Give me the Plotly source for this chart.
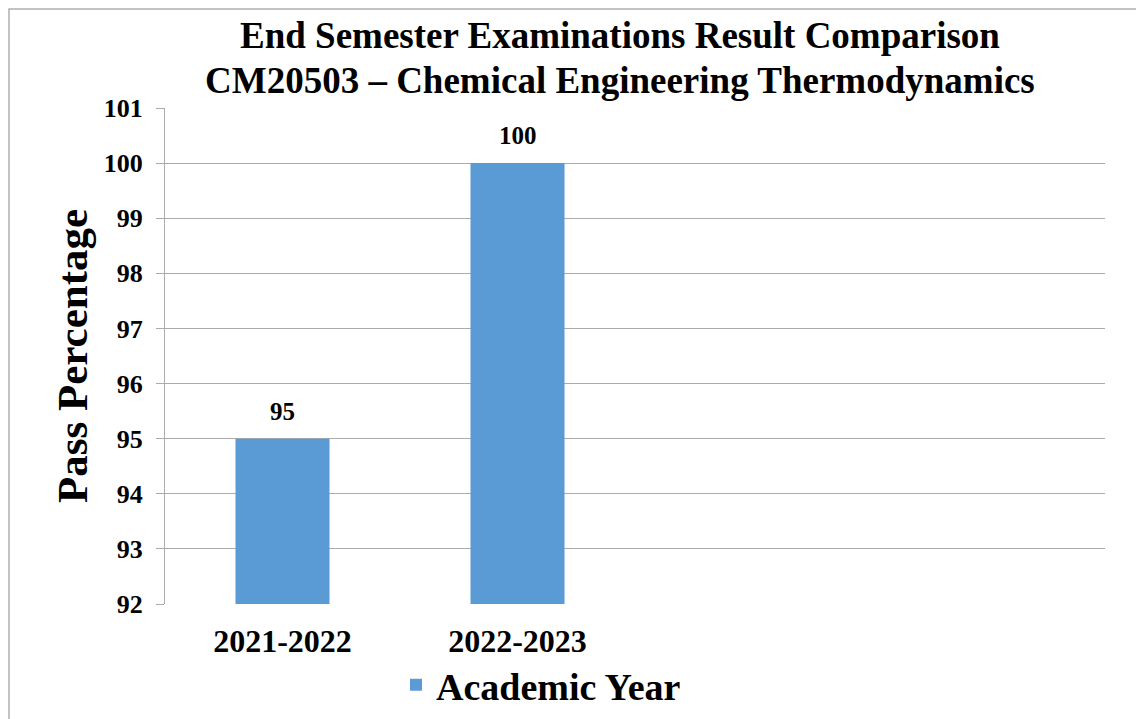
import plotly.graph_objects as go

categories = ["2021-2022", "2022-2023"]
pass_pct = [95, 100]
series_name = "Academic Year"
title_lines = ["End Semester Examinations Result Comparison",
               "CM20503 \u2013 Chemical Engineering Thermodynamics"]

# page body has an 8px margin, so the figure is laid out 8px smaller/shifted
OFF = 8
W, H = 1144 - OFF, 719 - OFF
L, R, T = 165 - OFF, 1144 - 1105, 108 - OFF
pw = W - L - R
plot_bottom = 604 - OFF
ph = plot_bottom - T
B = H - plot_bottom
font = "Liberation Serif"
grid = "#ababab"


def px_x(x):  # page pixel -> paper x
    return (x - OFF - L) / pw


def px_y(y):  # page pixel -> paper y
    return (plot_bottom - (y - OFF)) / ph


fig = go.Figure()
fig.add_trace(go.Bar(
    x=categories, y=pass_pct, name="<b>" + series_name + "</b>",
    marker=dict(color="#5b9bd5", line=dict(width=0)),
    showlegend=True,
))

# value labels above bars
for c, v in zip(categories, pass_pct):
    fig.add_annotation(x=c, y=v, xref="x", yref="y", text="<b>%s</b>" % v,
                       showarrow=False, yanchor="bottom", yshift=12,
                       font=dict(family=font, size=25, color="black"))

fig.update_layout(
    width=W, height=H,
    margin=dict(l=L, r=R, t=T, b=B, pad=0, autoexpand=False),
    paper_bgcolor="white", plot_bgcolor="white",
    font=dict(family=font, color="black"),
    bargap=0.6,
    xaxis=dict(type="category", range=[-0.5, 3.5], showgrid=False,
               showline=False, ticks="", automargin=False,
               tickfont=dict(family=font, size=32, color="black"),
               ticklabelstandoff=15, tickprefix="<b>", ticksuffix="</b>"),
    yaxis=dict(range=[92, 101], dtick=1, showgrid=True, gridcolor=grid,
               gridwidth=1.3, showline=True, linecolor=grid, linewidth=1.3,
               ticks="outside", ticklen=8, tickcolor=grid, tickwidth=1.3,
               tickfont=dict(family=font, size=26, color="black"),
               tickprefix="<b>", ticksuffix="</b>", ticklabelstandoff=8,
               zeroline=False, automargin=False,
               title=dict(text="<b>Pass Percentage</b>", standoff=2,
                          font=dict(family=font, size=43, color="black"))),
    legend=dict(orientation="h", x=px_x(396), xanchor="left",
                yref="container", y=1 - (685 - OFF) / H, yanchor="middle",
                font=dict(family=font, size=38, color="black"),
                itemwidth=30, bgcolor="rgba(0,0,0,0)"),
)

for line, yc in zip(title_lines, [36, 80]):
    fig.add_annotation(text="<b>" + line + "</b>", xref="paper", yref="paper",
                       x=px_x(620), y=px_y(yc), xanchor="center",
                       yanchor="middle", showarrow=False,
                       font=dict(family=font, size=37, color="black"))

# thin outer chart border (only top/left visible in the frame)
fig.add_shape(type="rect", xref="paper", yref="paper",
              x0=(1 - L) / pw, x1=(W + 20 - L) / pw,
              y0=(plot_bottom - 1) / ph, y1=(plot_bottom - H - 20) / ph,
              line=dict(color="#b0b0b0", width=1.5), layer="below")

fig.write_html("out.html")
